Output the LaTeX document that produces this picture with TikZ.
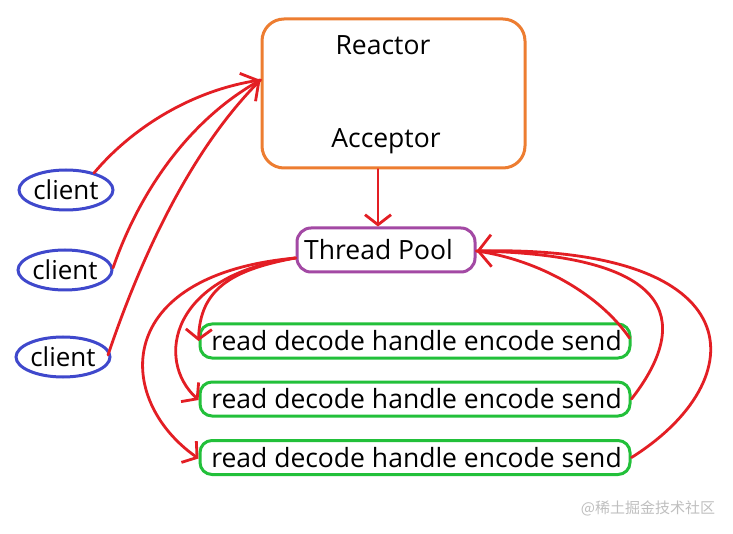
\documentclass[tikz,border=0pt]{standalone}
\usepackage{fontspec}
\setmainfont{Open Sans}
\newfontfamily\cjk{Noto Sans CJK SC}
\usetikzlibrary{arrows.meta,shapes.geometric}
\definecolor{redline}{HTML}{E31E24}
\definecolor{orangeb}{HTML}{ED7D31}
\definecolor{purpleb}{HTML}{A349A4}
\definecolor{blueb}{HTML}{3F48CC}
\definecolor{greenb}{HTML}{22C03A}
\tikzset{
  lbl/.style={font=\fontsize{26.5}{30}\selectfont, inner sep=0pt},
  reactorbox/.style={draw=orangeb, line width=3pt, rounded corners=22pt, minimum width=263pt, minimum height=149pt, inner sep=0pt},
  poolbox/.style={draw=purpleb, line width=3pt, rounded corners=14pt, minimum width=178pt, minimum height=44pt, inner sep=0pt, font=\fontsize{26.5}{30}\selectfont},
  taskbox/.style={draw=greenb, line width=3pt, rounded corners=12pt, minimum width=430pt, minimum height=34pt, inner sep=0pt, font=\fontsize{26.5}{30}\selectfont},
  clientnode/.style={ellipse, draw=blueb, line width=3pt, minimum width=94pt, minimum height=40pt, inner sep=0pt, font=\fontsize{26}{30}\selectfont},
  conn/.style={draw=redline, line width=2.8pt, line cap=round},
  connarrow/.style={conn, -{Straight Barb[length=13pt, width=32pt, line width=2.8pt]}},
  connarrowsmall/.style={conn, -{Straight Barb[length=10pt, width=26pt, line width=2.8pt]}},
}
\begin{document}
\begin{tikzpicture}[x=1pt, y=-1pt]
\useasboundingbox (0,0) rectangle (733,534);
\fill[white] (0,0) rectangle (733,534);

\node[reactorbox] (reactor) at (393.5,93.5) {};
\node[lbl] (rtext) at (383,45) {Reactor};
\node[lbl] (atext) at (386,141) {Acceptor};

\node[poolbox] (pool) at (386,250) {\kern-15pt Thread Pool};

\node[taskbox] (t1) at (415,341) {\kern3pt read decode handle encode send};
\node[taskbox] (t2) at (415,399) {\kern3pt read decode handle encode send};
\node[taskbox] (t3) at (415,457.5) {\kern3pt read decode handle encode send};

\node[clientnode] (c1) at (66,190) {client};
\node[clientnode] (c2) at (65,270) {client};
\node[clientnode] (c3) at (63,357) {client};

\node[font=\cjk\fontsize{15}{18}\selectfont, text=black!25, inner sep=0pt] (wm) at (648,508) {@稀土掘金技术社区};

% client -> reactor
\coordinate (rin) at ([yshift=13.5pt]reactor.west);
\coordinate (c1o) at (94,173);
\coordinate (c2o) at (113,268);
\coordinate (c3o) at (108,355);
\draw[conn] (c1o) .. controls (130,130) and (190,90) .. (rin);
\draw[conn] (c3o) .. controls (140,260) and (190,150) .. (rin);
\draw[connarrow] (c2o) .. controls (140,190) and (190,120) .. (rin);

% acceptor -> pool
\coordinate (aout) at ([xshift=-15.5pt]reactor.south);
\coordinate (pin) at (aout |- pool.north);
\draw[connarrowsmall] (aout) -- (pin);

% pool -> tasks
\coordinate (pout) at ([yshift=-8pt]pool.west);
\draw[connarrowsmall] (pout) .. controls (230,270) and (200,290) .. (t1.west);
\draw[connarrowsmall] (pout) .. controls (170,275) and (155,360) .. ([yshift=-1pt]t2.west);
\draw[connarrowsmall] (pout) .. controls (110,275) and (115,400) .. ([yshift=-1pt]t3.west);

% tasks -> pool
\coordinate (pr) at ([yshift=-1pt]pool.east);
\coordinate (t1e) at ([xshift=-2pt,yshift=3pt]t1.east);
\coordinate (t2e) at (t2.east);
\coordinate (t3e) at (t3.east);
\draw[conn] (t1e) .. controls (600,295) and (540,260) .. (pr);
\draw[conn] (t2e) .. controls (685,330) and (690,255) .. (pr);
\draw[connarrow] (t3e) .. controls (755,380) and (755,245) .. (pr);
\end{tikzpicture}
\end{document}
